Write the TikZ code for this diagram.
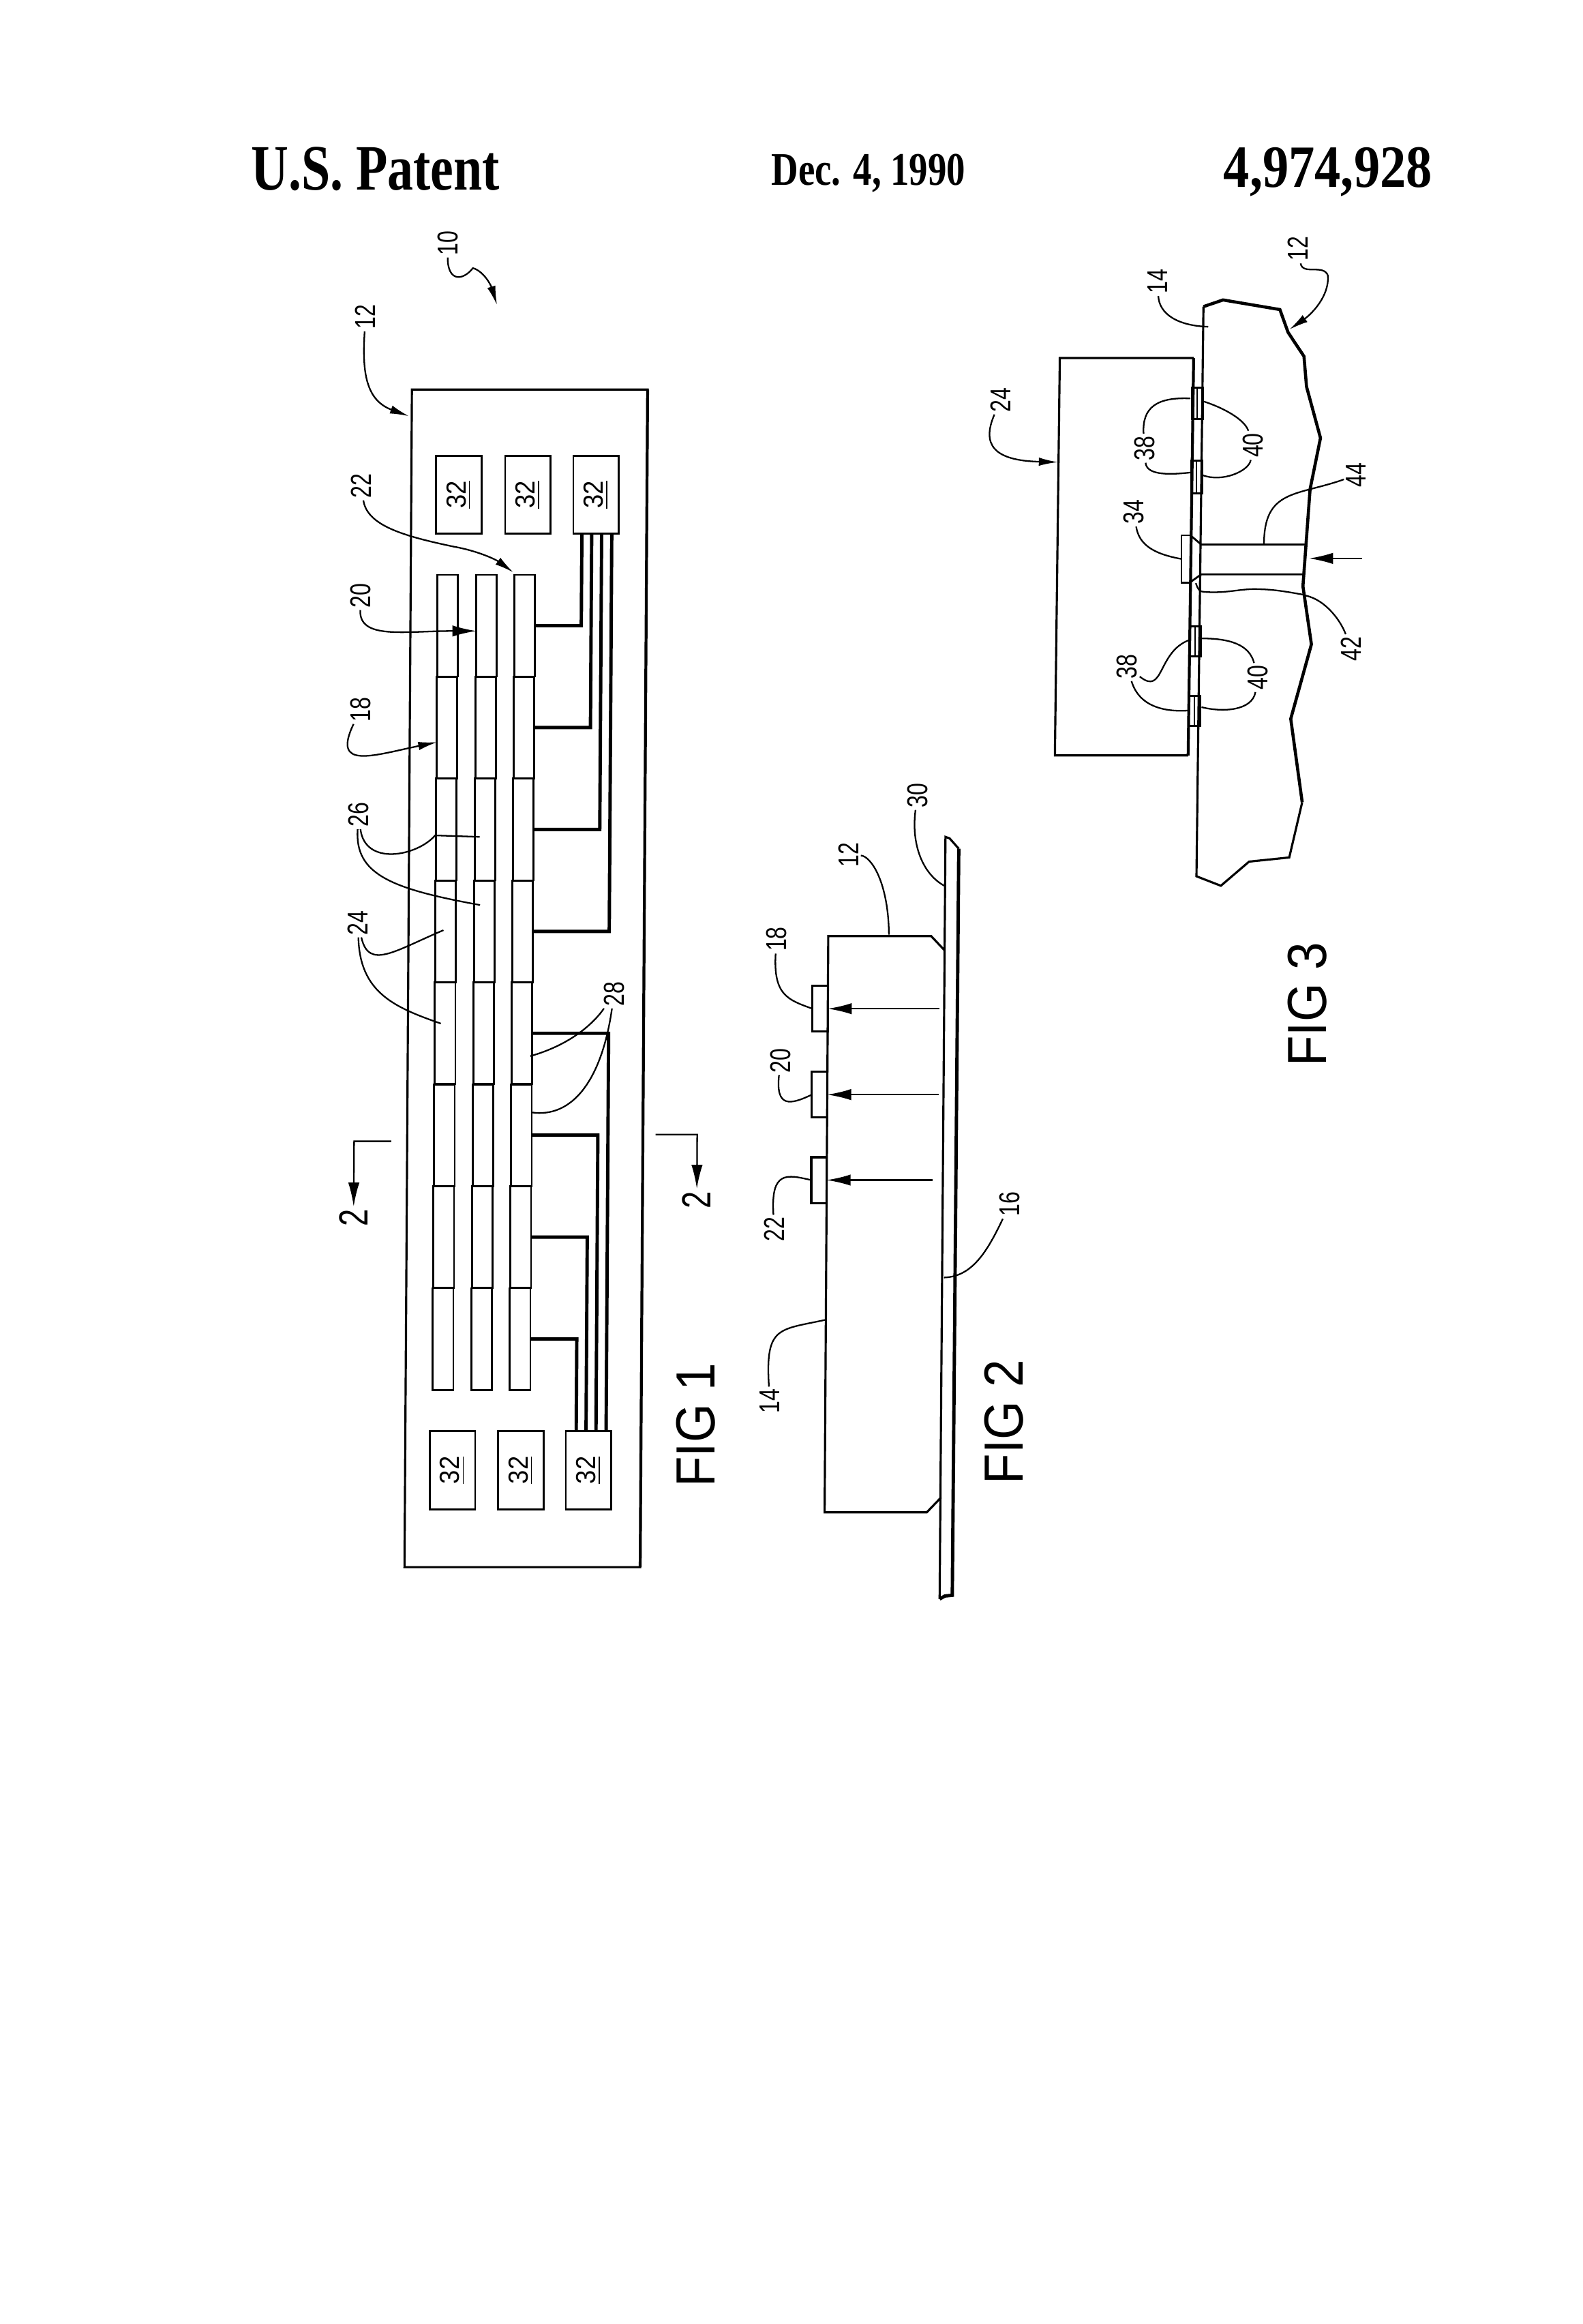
\documentclass[tikz,border=0pt]{standalone}
\usepackage{fontspec}
\usetikzlibrary{arrows.meta}
\newfontfamily\lblfont[FakeStretch=0.76]{Liberation Sans}
\newfontfamily\figfont[FakeStretch=0.9]{Liberation Sans}
\newfontfamily\headfont[FakeStretch=0.8]{Liberation Serif}
\newfontfamily\numfont[FakeStretch=0.87]{Liberation Serif}
\tikzset{
  wall/.style={line width=0.9pt},
  wire/.style={line width=1.4pt},
  lead/.style={line width=0.65pt},
  tip/.style={-{Latex[length=8pt,width=3.5pt]}},
  bigtip/.style={-{Latex[length=10pt,width=4.7pt]}},
  lab/.style={rotate=90,font=\lblfont\fontsize{12}{14}\selectfont},
  cut/.style={rotate=90,font=\lblfont\fontsize{17}{19}\selectfont},
  figlab/.style={rotate=90,font=\figfont\fontsize{23}{25}\selectfont},
  ic/.style={draw,line width=0.8pt,rotate=90,minimum width=32.6pt,minimum height=19pt,font=\figfont\fontsize{11.5}{13}\selectfont},
  cell/.style={draw,line width=0.8pt,minimum width=8.6pt,minimum height=42.4pt},
  chip/.style={draw,line width=0.9pt,minimum width=6.4pt,minimum height=19.1pt},
  bump/.style={draw,line width=0.7pt,minimum width=3.65pt,minimum height=19.7pt}
}
\begin{document}
\begin{tikzpicture}[x=0.0218cm, y=-0.02172cm, every node/.style={inner sep=1pt,outer sep=0pt}]
  \useasboundingbox (0,0) rectangle (1064.2,1569);
  \node[font=\headfont\bfseries\fontsize{27}{29}\selectfont] (n0) at (252.5,114) {U.S. Patent};
  \node[font=\headfont\bfseries\fontsize{19.5}{22}\selectfont] (n1) at (584,117) {Dec. 4, 1990};
  \node[font=\numfont\bfseries\fontsize{25}{27}\selectfont] (n2) at (893,116) {4,974,928};
  \begin{scope}[xshift=0.0906cm, xslant=0.0063]
    \draw[wall] (274.5,263) rectangle (433,1058);
    \draw[line width=1.2pt] (433,263) -- (433,1058);
    \foreach \x [count=\r] in {299.5,325.5,351.3}
      \foreach \k in {0,...,7}
        \node[cell] (c\r\k) at (\x,{422.4+68.8*\k}) {};
    \node[ic] (ic1) at (306.5,334) {\underline{32}};
    \node[ic] (ic2) at (353,334) {\underline{32}};
    \node[ic] (ic3) at (398.8,334) {\underline{32}};
    \node[ic] (ic4) at (306.3,992.5) {\underline{32}};
    \node[ic] (ic5) at (352.3,992.5) {\underline{32}};
    \node[ic] (ic6) at (397.9,992.5) {\underline{32}};
    \foreach \i/\x in {1/389.4,2/396,3/402.7,4/409.5} {
      \coordinate (t\i) at (\x,361);
      \coordinate (b\i) at (\x,966.5);
    }
    \draw[wire] (c30.east) -| (t1);
    \draw[wire] (c31.east) -| (t2);
    \draw[wire] (c32.east) -| (t3);
    \draw[wire] (c33.east) -| (t4);
    \draw[wire] (c34.east) -| (b4);
    \draw[wire] (c35.east) -| (b3);
    \draw[wire] (c36.east) -| (b2);
    \draw[wire] (c37.east) -| (b1);
    \node[lab] (n10) at (298,164) {10};
    \node[lab] (n12) at (243,214) {12};
    \node[lab] (n22) at (240.8,328) {22};
    \node[lab] (n20) at (241,402) {20};
    \node[lab] (n18) at (241.3,479) {18};
    \node[lab] (n26) at (240.5,550) {26};
    \node[lab] (n24) at (240.5,623) {24};
    \node[lab] (n28) at (413,671) {28};
    \coordinate (e10) at (331.4,206);
    \coordinate (e12) at (272.7,281);
    \coordinate (e22) at (343.6,386.5);
    \coordinate (e20) at (318.9,426);
    \coordinate (e18) at (293.1,501);
    \coordinate (e26a) at (322,565);
    \coordinate (e26b) at (322.5,611);
    \coordinate (e24a) at (298,628);
    \coordinate (e24b) at (296.6,691);
    \coordinate (e28a) at (357,713);
    \coordinate (e28b) at (358,751);
    \draw[lead,tip] (n10) .. controls (298,190) and (308,190) .. (315,181) .. controls (322,183) and (327,192) .. (e10);
    \draw[lead,tip] (n12) .. controls (241,250) and (243,270) .. (e12);
    \draw[lead,tip] (n22) .. controls (245,355) and (270,362) .. (303,369) .. controls (320,372) and (332,378) .. (e22);
    \draw[lead,bigtip] (n20) .. controls (240,432) and (270,426) .. (e20);
    \draw[lead,tip] (n18) .. controls (222,520) and (250,510) .. (e18);
    \draw[lead] (n26) .. controls (245,585) and (280,578) .. (292,564) -- (e26a);
    \draw[lead] (n26) .. controls (238,590) and (262,600) .. (e26b);
    \draw[lead] (n24) .. controls (248,655) and (265,642) .. (e24a);
    \draw[lead] (n24) .. controls (242,670) and (265,680) .. (e24b);
    \draw[lead] (n28) .. controls (400,690) and (385,705) .. (e28a);
    \draw[lead] (n28) .. controls (405,730) and (385,755) .. (e28b);
    \node[cut] (n2a) at (238.8,822) {2};
    \node[cut] (n2b) at (469.5,810) {2};
    \coordinate (s1) at (263.8,770.5);
    \coordinate (s2) at (441.5,766);
    \draw[lead,bigtip] (s1) -| (n2a);
    \draw[lead,bigtip] (s2) -| (n2b);
    \node[figlab] (n3) at (470,962) {FIG 1};
    \draw[wall] (634.5,1079.5) -- (635.2,565) -- (638,566) -- (644.2,573);
    \draw[line width=1.4pt] (644.2,573) -- (643,1077) -- (638,1077.5) -- (634.5,1079.5);
    \draw[wall] (635,641.5) -- (626,632) -- (556.8,632) -- (556.8,1021) -- (625.5,1021) -- (635,1011);
    \node[chip] (ch18) at (551.6,681) {};
    \node[chip] (ch20) at (551.6,739) {};
    \node[chip] (ch22) at (551.6,796.7) {};
    \coordinate (a18) at (631.7,681);
    \coordinate (a20) at (631.7,739);
    \coordinate (a22) at (628,796.7);
    \draw[lead,bigtip] (a18) -- (ch18.east);
    \draw[lead,bigtip] (a20) -- (ch20.east);
    \draw[lead,bigtip] (a22) -- (ch22.east);
    \node[lab] (m12) at (570,577) {12};
    \node[lab] (m30) at (616.2,537) {30};
    \node[lab] (m18) at (522,634) {18};
    \node[lab] (m20) at (525.3,716) {20};
    \node[lab] (m22) at (521.8,830) {22};
    \node[lab] (m14) at (519.5,946) {14};
    \node[lab] (m16) at (680,813) {16};
    \coordinate (f12) at (597.6,631);
    \coordinate (f30) at (634.6,598);
    \coordinate (f14) at (556.8,891);
    \coordinate (f16) at (636,862.5);
    \draw[lead] (m12) .. controls (585,578) and (597,595) .. (f12);
    \draw[lead] (m30) .. controls (612,570) and (620,590) .. (f30);
    \draw[lead] (m18) .. controls (520,672) and (530,675) .. (ch18.west);
    \draw[lead] (m20) .. controls (522,748) and (532,746) .. (ch20.west);
    \draw[lead] (m22) .. controls (519,790) and (530,793) .. (ch22.west);
    \draw[lead] (m14) .. controls (516,895) and (525,898) .. (f14);
    \draw[lead] (m16) .. controls (665,845) and (655,862) .. (f16);
    \node[figlab] (n4) at (677,960) {FIG 2};
  \end{scope}
  \draw[wall] (802.7,241.7) -- (712.7,241.7) -- (709.4,510) -- (799,510);
  \draw[line width=1.2pt] (802.7,241.7) -- (799,510);
  \draw[line width=1.3pt] (809.3,207) -- (822.5,202.5) -- (860.7,209) -- (866.2,224.4) -- (876.9,240.6) -- (878.6,261) -- (888,295.7) -- (881,330.3) -- (876.2,395.8) -- (881.9,435) -- (868,485.3) -- (875.7,541.6);
  \draw[wall] (875.7,541.6) -- (867,578.9) -- (840,581.7) -- (821,598) -- (804.6,591.6) -- (809.3,207);
  \foreach \i/\xa/\xb/\ya/\yb in {1/801.5/808.9/261.6/283,2/801/808.4/311/333,3/800/807.5/423/443,4/799.3/807/470/490} {
    \draw[line width=0.8pt] (\xa,\ya) rectangle (\xb,\yb);
    \draw[line width=0.5pt] ({(\xa+\xb)/2},\ya) -- ({(\xa+\xb)/2},\yb);
  }
  \node[bump] (bp) at (797.55,377.4) {};
  \draw[line width=0.8pt] (800.5,361.4) -- (807.8,367.6) -- (878.5,367.6);
  \draw[line width=0.8pt] (800.5,393) -- (807.8,387.8) -- (876,387.8);
  \draw[lead] (804.2,393.7) .. controls (805.5,398) and (807,399.5) .. (809,399.5) .. controls (825,401) and (835,397) .. (847,397.8) .. controls (858,398) and (868,400) .. (876.6,401.5);
  \node[lab] (p12) at (873,168) {12};
  \node[lab] (p14) at (778.5,190) {14};
  \node[lab] (p24) at (673,270) {24};
  \node[lab] (p38a) at (769.6,302.6) {38};
  \node[lab] (p40a) at (842.6,300.7) {40};
  \node[lab] (p34) at (762.5,345.7) {34};
  \node[lab] (p44) at (912,320.7) {44};
  \node[lab] (p42) at (908.5,438) {42};
  \node[lab] (p38b) at (758,450) {38};
  \node[lab] (p40b) at (846,457.4) {40};
  \coordinate (q12) at (867,222.5);
  \coordinate (q14) at (812.5,220.6);
  \coordinate (q24) at (711.5,312);
  \coordinate (q44) at (850,367.6);
  \coordinate (q42) at (877.7,402);
  \coordinate (q1) at (916,377);
  \coordinate (q2) at (880.3,377);
  \draw[lead,tip] (p12) .. controls (876,186) and (890,178) .. (893,186) .. controls (894,200) and (882,212) .. (q12);
  \draw[lead] (p14) .. controls (779.5,212) and (792,220) .. (q14);
  \draw[lead,tip] (p24) .. controls (660,300) and (668,311) .. (q24);
  \draw[lead] (p38a) .. controls (768,275) and (778,268) .. (800.5,269);
  \draw[lead] (p38a) .. controls (771,320) and (783,321) .. (800.5,319);
  \draw[lead] (p40a) .. controls (837,283) and (822,275) .. (809.3,271);
  \draw[lead] (p40a) .. controls (840,318) and (822,326) .. (808.4,320.7);
  \draw[lead] (p34) .. controls (766,368) and (776,374) .. (bp.west);
  \draw[lead] (p44) .. controls (872,335) and (850,330) .. (q44);
  \draw[lead] (p42) .. controls (902,420) and (892,405) .. (q42);
  \draw[lead] (p38b) .. controls (783,470) and (778,440) .. (800,432);
  \draw[lead] (p38b) .. controls (766,477) and (783,481) .. (800.3,479.6);
  \draw[lead] (p40b) .. controls (840,435) and (827,431) .. (807.5,431);
  \draw[lead] (p40b) .. controls (842,480) and (822,481) .. (808,477.4);
  \draw[lead,bigtip] (q1) -- (q2);
  \node[figlab] (n5) at (879,678) {FIG 3};
\end{tikzpicture}
\end{document}
